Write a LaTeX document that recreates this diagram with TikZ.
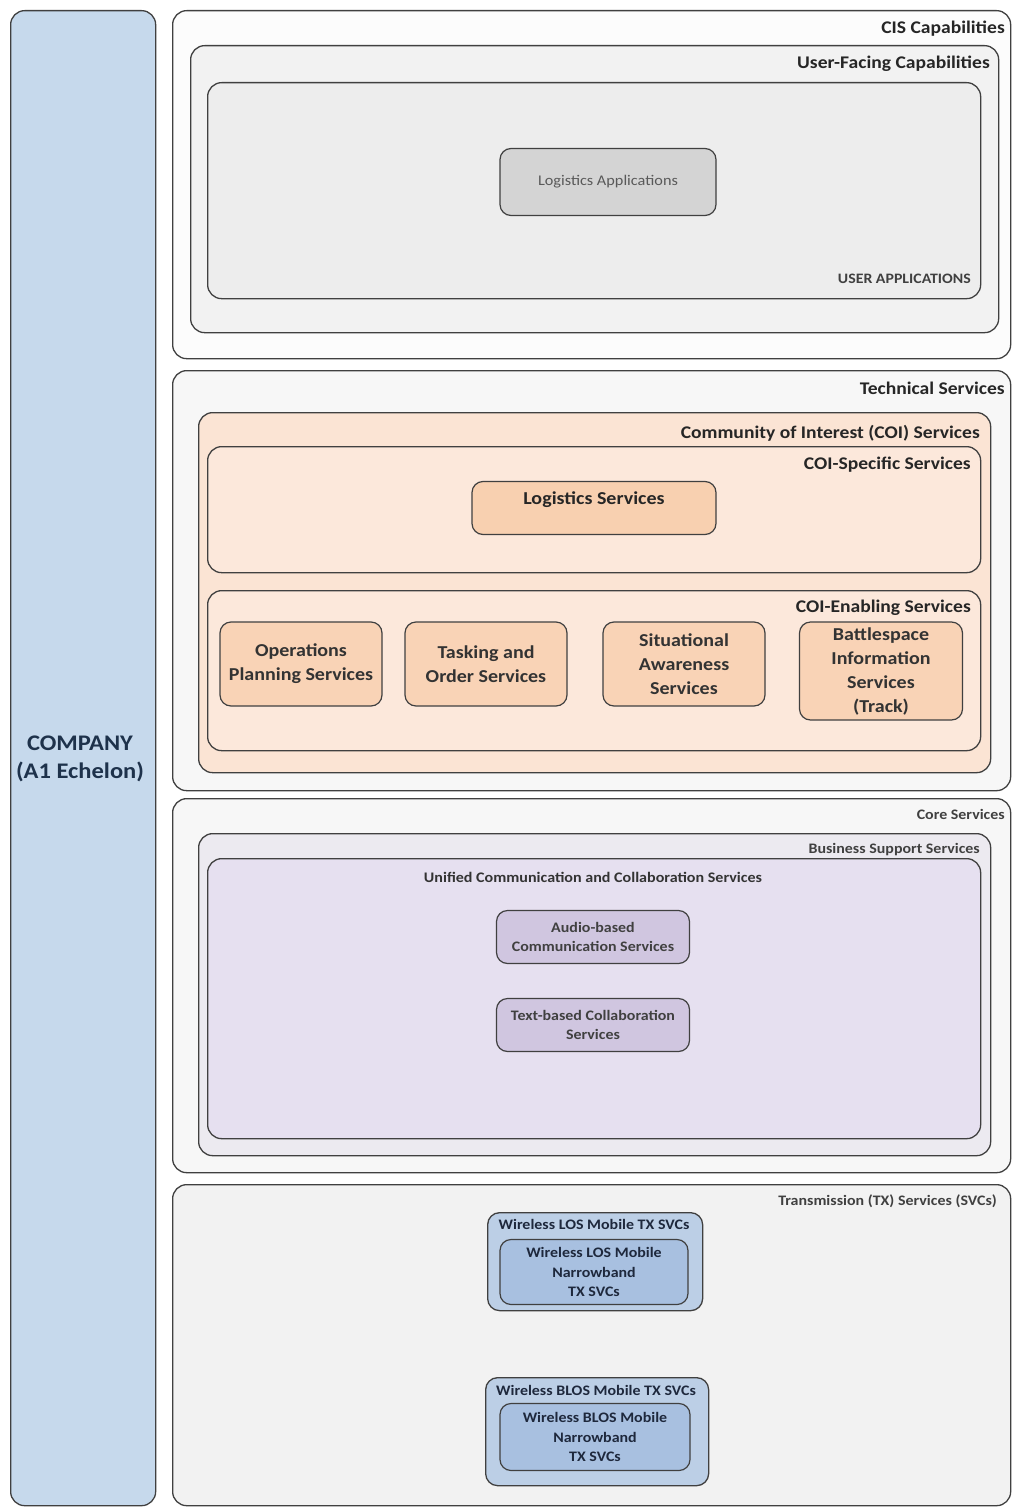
\documentclass[tikz,border=0pt]{standalone}
\usepackage{fontspec}
\setmainfont{Carlito}[FakeStretch=1.1]
\begin{document}
\begin{tikzpicture}[x=1pt,y=-1pt,
  frame/.style={draw=black!75, line width=1.3pt, rounded corners=14pt, anchor=north west, inner sep=0pt},
  pill/.style={draw=black!75, line width=1.2pt, rounded corners=11pt, anchor=center, align=center, inner sep=0pt},
  lab/.style={anchor=east, inner sep=0pt, text=black!85, font=\bfseries\fontsize{17.8}{21}\selectfont},
  slab/.style={anchor=east, inner sep=0pt, text=black!75, font=\fontsize{14.5}{17}\selectfont\bfseries},
]
\useasboundingbox (0,0) rectangle (1013,1509);
\fill[white] (0,0) rectangle (1013,1509);

% echelon column
\node[frame, fill={rgb,255:red,198;green,217;blue,236}, minimum width=145pt, minimum height=1495pt] (company) at (10,10) {};
\node[align=center, text={rgb,255:red,30;green,50;blue,75}, font=\bfseries\fontsize{22.3}{28}\selectfont] (companytxt) at (80,759) {COMPANY\\(A1 Echelon)};

% CIS capabilities
\node[frame, fill=black!1, minimum width=838pt, minimum height=348pt] (cis) at (172,10) {};
\node[lab] (cislab) at (1005,29) {CIS Capabilities};
\node[frame, fill=black!5, minimum width=808pt, minimum height=287pt] (ufc) at (190,45) {};
\node[lab] (ufclab) at (990,64) {User-Facing Capabilities};
\node[frame, fill=black!7, minimum width=773pt, minimum height=216pt] (uapp) at (207,82) {};
\node[slab, font=\fontsize{14.4}{16}\selectfont\bfseries] (uapplab) at (971,279) {USER APPLICATIONS};
\node[pill, fill=black!17, text=black!65, minimum width=216pt, minimum height=67pt, font=\fontsize{14.8}{17}\selectfont] (logapp) at (608,182) {Logistics Applications};

% technical services
\node[frame, fill=black!3, minimum width=838pt, minimum height=420pt] (tech) at (172,370) {};
\node[lab] (techlab) at (1005,388) {Technical Services};
\node[frame, fill={rgb,255:red,251;green,228;blue,212}, minimum width=792pt, minimum height=360pt] (coi) at (198,412) {};
\node[lab] (coilab) at (980,433) {Community of Interest (COI) Services};
\node[frame, fill={rgb,255:red,252;green,232;blue,219}, minimum width=773pt, minimum height=126pt] (coisp) at (207,446) {};
\node[lab] (coisplab) at (971,465) {COI-Specific Services};
\node[pill, fill={rgb,255:red,248;green,208;blue,176}, minimum width=244pt, minimum height=53pt] (logsvc) at (594,508) {};
\node[inner sep=0pt, font=\bfseries\fontsize{18.2}{22}\selectfont, text=black!85] (logsvctxt) at (594,500) {Logistics Services};
\node[frame, fill={rgb,255:red,252;green,232;blue,219}, minimum width=773pt, minimum height=160pt] (coien) at (207,590) {};
\node[lab] (coienlab) at (971,608) {COI-Enabling Services};
\tikzset{coibox/.style={pill, fill={rgb,255:red,249;green,211;blue,182}, text=black!80, font=\bfseries\fontsize{18.2}{24}\selectfont}}
\node[coibox, minimum width=162pt, minimum height=84pt] (ops) at (301,664) {Operations\\Planning Services};
\node[coibox, minimum width=162pt, minimum height=84pt] (task) at (486,664) {Tasking and\\Order Services};
\node[coibox, minimum width=162pt, minimum height=84pt] (sa) at (684,664) {Situational\\Awareness\\Services};
\node[coibox, minimum width=163pt, minimum height=98pt] (bis) at (881,671) {Battlespace\\Information\\Services\\(Track)};

% core services
\node[frame, fill=black!3, minimum width=838pt, minimum height=374pt] (core) at (172,798) {};
\node[slab] (corelab) at (1005,814) {Core Services};
\node[frame, fill={rgb,255:red,236;green,234;blue,240}, minimum width=792pt, minimum height=322pt] (bss) at (198,833) {};
\node[slab] (bsslab) at (980,850) {Business Support Services};
\node[frame, fill={rgb,255:red,230;green,224;blue,240}, minimum width=773pt, minimum height=280pt] (ucc) at (207,858) {};
\node[inner sep=0pt, text=black!80, font=\bfseries\fontsize{14.6}{17}\selectfont] (ucclab) at (593,877) {Unified Communication and Collaboration Services};
\tikzset{uccbox/.style={pill, fill={rgb,255:red,208;green,198;blue,224}, text=black!75, minimum width=193pt, minimum height=53pt, font=\bfseries\fontsize{14.5}{19}\selectfont}}
\node[uccbox] (audio) at (593,937) {Audio-based\\Communication Services};
\node[uccbox] (textc) at (593,1025) {Text-based Collaboration\\Services};

% transmission services
\node[frame, fill=black!5, minimum width=838pt, minimum height=321pt] (tx) at (172,1184) {};
\node[slab] (txlab) at (997,1201) {Transmission (TX) Services (SVCs)};
\tikzset{
  txouter/.style={frame, rounded corners=12pt, fill={rgb,255:red,188;green,207;blue,230}},
  txinner/.style={pill, fill={rgb,255:red,168;green,192;blue,224}, text={rgb,255:red,30;green,40;blue,60}, font=\bfseries\fontsize{14.5}{19.5}\selectfont},
  txlabel/.style={inner sep=0pt, text={rgb,255:red,30;green,40;blue,60}, font=\bfseries\fontsize{14.5}{17}\selectfont}}
\node[txouter, minimum width=215pt, minimum height=98pt] (los) at (487,1212) {};
\node[txlabel] (loslab) at (594,1224) {Wireless LOS Mobile TX SVCs};
\node[txinner, minimum width=188pt, minimum height=65pt] (losnb) at (594,1272) {Wireless LOS Mobile\\Narrowband\\TX SVCs};
\node[txouter, minimum width=223pt, minimum height=108pt] (blos) at (485,1377) {};
\node[txlabel] (bloslab) at (596,1390) {Wireless BLOS Mobile TX SVCs};
\node[txinner, minimum width=190pt, minimum height=67pt] (blosnb) at (595,1437) {Wireless BLOS Mobile\\Narrowband\\TX SVCs};
\end{tikzpicture}
\end{document}
